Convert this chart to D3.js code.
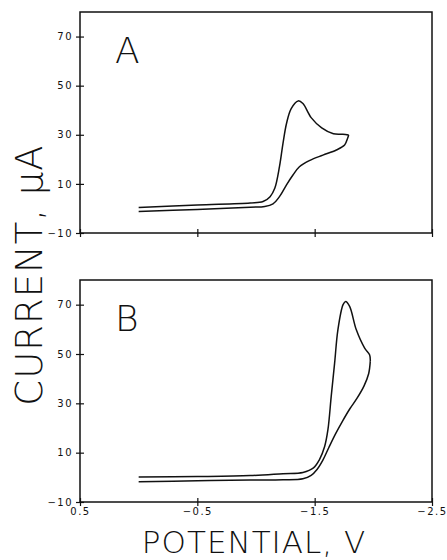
<!DOCTYPE html>
<html>
<head>
<meta charset="utf-8">
<script src="https://cdn.jsdelivr.net/npm/d3@7"></script>
<style>
  body { margin: 0; background: #fff; }
  svg { display: block; }
  .tick text { font-family: "DejaVu Sans", sans-serif; font-size: 10px; letter-spacing: 1.5px; fill: #111; }
  .tick line { stroke: #111; stroke-width: 1.2; }
  .big { font-family: "DejaVu Sans", sans-serif; font-weight: 200; fill: #111; }
</style>
</head>
<body>
<div id="chart"></div>
<script>
// cyclic voltammograms, current (uA) vs potential (V)
var yTicks = [-10, 10, 30, 50, 70];
var xTicks = [0.5, -0.5, -1.5, -2.5];

// panel A, forward scan
var potA_fwd = [0.0, -0.5, -0.95, -1.06, -1.12, -1.16, -1.20, -1.23, -1.26, -1.30, -1.36, -1.40, -1.47, -1.56, -1.66, -1.74, -1.79];
var curA_fwd = [0.4, 1.4, 2.2, 2.8, 4.8, 8.2, 17.0, 26.5, 34.6, 40.7, 43.8, 42.7, 37.0, 32.8, 30.4, 30.2, 29.9];
// panel A, return scan
var potA_rev = [-1.79, -1.78, -1.755, -1.685, -1.57, -1.46, -1.37, -1.315, -1.26, -1.20, -1.145, -1.075, -0.95, -0.5, 0.0];
var curA_rev = [29.9, 28.5, 25.8, 23.8, 21.7, 19.6, 17.0, 13.6, 9.6, 4.8, 1.9, 0.8, 0.5, -0.4, -1.2];

// panel B, forward scan
var potB_fwd = [0.0, -0.5, -0.95, -1.23, -1.40, -1.49, -1.54, -1.585, -1.613, -1.641, -1.670, -1.698, -1.742, -1.764, -1.798, -1.855, -1.926, -1.968, -1.974];
var curB_fwd = [0.1, 0.3, 0.7, 1.5, 2.0, 3.8, 7.1, 12.5, 19.3, 32.8, 46.3, 59.8, 70.0, 71.3, 69.3, 59.8, 52.4, 49.7, 47.0];
// panel B, return scan
var potB_rev = [-1.974, -1.96, -1.92, -1.86, -1.80, -1.74, -1.68, -1.62, -1.57, -1.52, -1.47, -1.40, -1.23, -0.95, -0.5, 0.0];
var curB_rev = [47.0, 42.0, 37.0, 32.0, 27.8, 23.0, 17.8, 12.0, 7.0, 3.2, 0.8, -0.6, -1.0, -1.1, -1.4, -1.8];

var width = 447, height = 560;
var svg = d3.select('#chart').append('svg')
    .attr('width', width)
    .attr('height', height);

var x = d3.scaleLinear().domain([0.5, -2.5]).range([80, 432]);
var fmt = d3.format('.1f');

function zip(p, c) {
    return p.map(function(v, i) { return [v, c[i]]; });
}

function drawPanel(top, bottom, label, fwd, rev, showX) {
    var y = d3.scaleLinear().domain([-10, 80]).range([bottom, top]);
    var g = svg.append('g');

    // frame
    g.append('rect')
        .attr('x', x.range()[0])
        .attr('y', top)
        .attr('width', x.range()[1] - x.range()[0])
        .attr('height', bottom - top)
        .attr('fill', 'none')
        .attr('stroke', '#111')
        .attr('stroke-width', 1.5);

    // y ticks: outward with labels, inward without, so they cross the axis
    var yOut = g.append('g')
        .attr('transform', 'translate(' + x.range()[0] + ',0)')
        .call(d3.axisLeft(y).tickValues(yTicks).tickSize(4).tickPadding(3));
    var yIn = g.append('g')
        .attr('transform', 'translate(' + x.range()[0] + ',0)')
        .call(d3.axisLeft(y).tickValues(yTicks).tickSize(-4).tickFormat(''));
    yOut.select('.domain').remove();
    yIn.select('.domain').remove();

    var xOut = g.append('g')
        .attr('transform', 'translate(0,' + bottom + ')')
        .call(d3.axisBottom(x).tickValues(xTicks).tickSize(4).tickPadding(2)
            .tickFormat(showX ? fmt : ''));
    var xIn = g.append('g')
        .attr('transform', 'translate(0,' + bottom + ')')
        .call(d3.axisBottom(x).tickValues(xTicks).tickSize(-4).tickFormat(''));
    xOut.select('.domain').remove();
    xIn.select('.domain').remove();

    var line = d3.line()
        .x(function(d) { return x(d[0]); })
        .y(function(d) { return y(d[1]); })
        .curve(d3.curveCatmullRom.alpha(0.5));

    [fwd, rev].forEach(function(data) {
        g.append('path')
            .datum(data)
            .attr('d', line)
            .attr('fill', 'none')
            .attr('stroke', '#111')
            .attr('stroke-width', 1.5);
    });

    g.append('text')
        .attr('class', 'big')
        .attr('x', 115)
        .attr('y', top + 51)
        .attr('font-size', '36px')
        .text(label);
}

drawPanel(12, 233, 'A', zip(potA_fwd, curA_fwd), zip(potA_rev, curA_rev), false);
drawPanel(280, 502, 'B', zip(potB_fwd, curB_fwd), zip(potB_rev, curB_rev), true);

// axis titles
svg.append('text')
    .attr('class', 'big')
    .attr('x', 254)
    .attr('y', 553)
    .attr('text-anchor', 'middle')
    .attr('font-size', '31px')
    .attr('letter-spacing', '1px')
    .text('POTENTIAL, V');

svg.append('text')
    .attr('class', 'big')
    .attr('transform', 'translate(42,275) rotate(-90)')
    .attr('text-anchor', 'middle')
    .attr('font-size', '37px')
    .attr('letter-spacing', '1px')
    .text('CURRENT, \u03bcA');
</script>
</body>
</html>
